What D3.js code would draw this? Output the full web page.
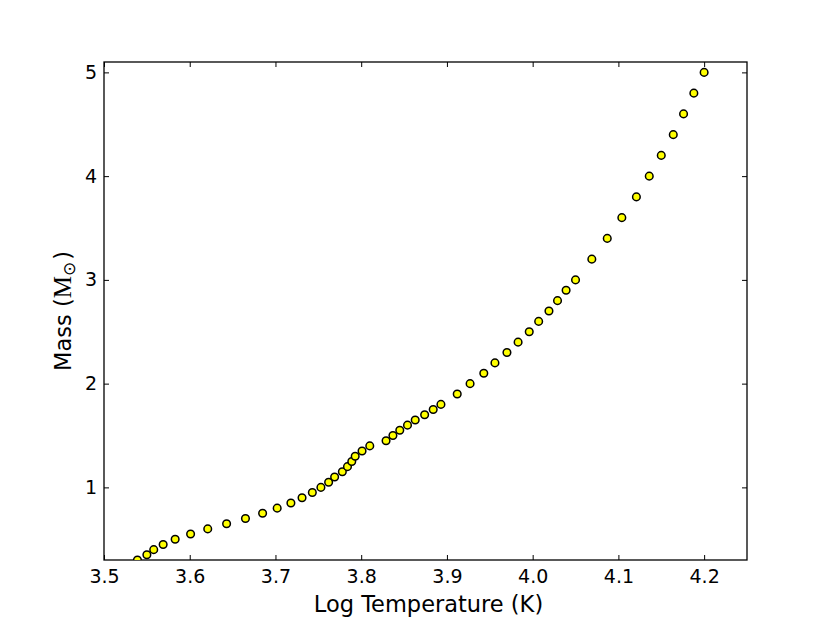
<!DOCTYPE html>
<head><meta charset="utf-8"/></head>
<style>
body { margin: 0; background: white; }
svg { background: white; }
.tick text { font-family: "DejaVu Sans", sans-serif; font-size: 19px; fill: black; }
.axis-label { font-family: "DejaVu Sans", sans-serif; font-size: 22.5px; fill: black; }
</style>
<script src="https://d3js.org/d3.v7.min.js"></script>
<body>
<div id="chart"></div>
</body>
<script>

// stellar mass vs log effective temperature
var mass = [0.3, 0.35, 0.4, 0.45, 0.5, 0.55, 0.6, 0.65, 0.7, 0.75, 0.8, 0.85, 0.9, 0.95,
    1.0, 1.05, 1.1, 1.15, 1.2, 1.25, 1.3, 1.35, 1.4, 1.45, 1.5, 1.55, 1.6, 1.65, 1.7, 1.75, 1.8,
    1.9, 2.0, 2.1, 2.2, 2.3, 2.4, 2.5, 2.6, 2.7, 2.8, 2.9, 3.0,
    3.2, 3.4, 3.6, 3.8, 4.0, 4.2, 4.4, 4.6, 4.8, 5.0];
var logT = [3.539, 3.550, 3.558, 3.569, 3.583, 3.601, 3.621, 3.643, 3.665, 3.685, 3.702, 3.718, 3.731, 3.743,
    3.753, 3.762, 3.769, 3.778, 3.784, 3.789, 3.793, 3.801, 3.810, 3.829, 3.837, 3.845, 3.854, 3.863, 3.874, 3.884, 3.893,
    3.912, 3.927, 3.943, 3.956, 3.970, 3.983, 3.996, 4.007, 4.019, 4.029, 4.039, 4.050,
    4.069, 4.087, 4.104, 4.121, 4.136, 4.150, 4.164, 4.176, 4.188, 4.200];
var xTicks = [3.5, 3.6, 3.7, 3.8, 3.9, 4.0, 4.1, 4.2];
var yTicks = [1, 2, 3, 4, 5];

var W = 830, H = 623;
var margin = {top: 62, left: 104, right: 83, bottom: 63},
    width = W - margin.left - margin.right,
    height = H - margin.top - margin.bottom;

var svg = d3.select("#chart").append("svg")
    .attr("width", W)
    .attr("height", H);

var g = svg.append("g")
    .attr("transform", "translate(" + margin.left + "," + margin.top + ")");

var x = d3.scaleLinear().domain([3.5, 4.25]).range([0, width]);
var y = d3.scaleLinear().domain([0.3, 5.1]).range([height, 0]);

function styleAxis(sel) {
    sel.select(".domain").remove();
    sel.selectAll(".tick line").attr("stroke", "black").attr("stroke-width", 1);
}

// bottom & top
g.append("g")
    .attr("transform", "translate(0," + height + ")")
    .call(d3.axisBottom(x).tickValues(xTicks).tickFormat(d3.format(".1f")).tickSizeInner(-5).tickPadding(10))
    .call(styleAxis);
g.append("g")
    .call(d3.axisTop(x).tickValues(xTicks).tickFormat("").tickSizeInner(-5))
    .call(styleAxis);
// left & right
g.append("g")
    .call(d3.axisLeft(y).tickValues(yTicks).tickFormat(d3.format("d")).tickSizeInner(-5).tickPadding(7))
    .call(styleAxis);
g.append("g")
    .attr("transform", "translate(" + width + ",0)")
    .call(d3.axisRight(y).tickValues(yTicks).tickFormat("").tickSizeInner(-5))
    .call(styleAxis);

// frame
g.append("rect")
    .attr("width", width)
    .attr("height", height)
    .attr("fill", "none")
    .attr("stroke", "black")
    .attr("stroke-width", 1.3);

g.append("clipPath").attr("id", "clip")
    .append("rect").attr("width", width).attr("height", height);

var pts = mass.map(function(m, i) { return {m: m, t: logT[i]}; });

g.append("g")
    .attr("clip-path", "url(#clip)")
    .selectAll("circle")
    .data(pts)
    .enter().append("circle")
    .attr("cx", function(d) { return x(d.t); })
    .attr("cy", function(d) { return y(d.m); })
    .attr("r", 3.8)
    .attr("fill", "yellow")
    .attr("stroke", "black")
    .attr("stroke-width", 1.5);

svg.append("text")
    .attr("class", "axis-label")
    .attr("x", margin.left + width / 2 + 3)
    .attr("y", 612)
    .attr("text-anchor", "middle")
    .text("Log Temperature (K)");

var yl = svg.append("text")
    .attr("class", "axis-label")
    .attr("transform", "translate(71," + (margin.top + height / 2) + ") rotate(-90)")
    .attr("text-anchor", "middle");
yl.append("tspan").text("Mass (");
yl.append("tspan").style("font-family", "'Liberation Serif', serif").style("font-size", "25px").text("M");
yl.append("tspan").attr("dy", 4).style("font-size", "17px").text("\u2299");
yl.append("tspan").attr("dy", -4).attr("dx", 2).text(")");

</script>
